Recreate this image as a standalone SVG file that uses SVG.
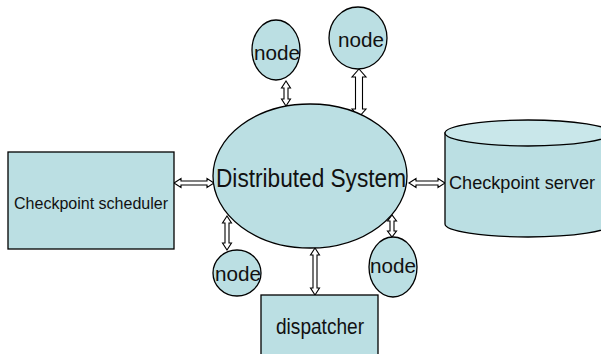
<svg xmlns="http://www.w3.org/2000/svg" width="601" height="354" viewBox="0 0 601 354">
<style>
.s{fill:#bbdfe3;stroke:#000;stroke-width:1.3}
.top{fill:#c9e7ea;stroke:#000;stroke-width:1.3}
.a{fill:#fff;stroke:#000;stroke-width:1.1;stroke-linejoin:miter}
.t{font-family:"Liberation Sans",Arial,sans-serif;fill:#111;text-anchor:middle}
</style>
<rect width="601" height="354" fill="#fff"/>
<g id="connectors">
<polygon class="a" points="174,183 181,178.5 181,181 207,181 207,178.5 214,183 207,187.5 207,185 181,185 181,187.5"/>
<polygon class="a" points="409,183 416,178.5 416,181 438,181 438,178.5 445,183 438,187.5 438,185 416,185 416,187.5"/>
<polygon class="a" points="286,81 281.5,88 284,88 284,99 281.5,99 286,106 290.5,99 288,99 288,88 290.5,88"/>
<polygon class="a" points="359,69 352,77 355.5,77 355.5,109 352,109 359,117 366,109 362.5,109 362.5,77 366,77"/>
<polygon class="a" points="227,216 222.5,223 225,223 225,243 222.5,243 227,250 231.5,243 229,243 229,223 231.5,223"/>
<polygon class="a" points="392,215 387.5,221 390,221 390,231 387.5,231 392,237 396.5,231 394,231 394,221 396.5,221"/>
<polygon class="a" points="315,248 310.5,255 313,255 313,288 310.5,288 315,295 319.5,288 317,288 317,255 319.5,255"/>
</g>
<g id="distributed-system">
<ellipse class="s" cx="310" cy="176" rx="97" ry="72"/>
<text class="t" x="311" y="187" font-size="26" textLength="190" lengthAdjust="spacingAndGlyphs">Distributed System</text>
</g>
<g id="checkpoint-scheduler">
<rect class="s" x="8" y="152" width="166" height="97"/>
<text class="t" x="91" y="209" font-size="16" textLength="154" lengthAdjust="spacingAndGlyphs">Checkpoint scheduler</text>
</g>
<g id="checkpoint-server">
<path class="s" d="M445,133 L445,224 A83,13 0 0 0 611,224 L611,133 Z"/>
<ellipse class="top" cx="528" cy="133" rx="83" ry="13"/>
<text class="t" x="522" y="189" font-size="18" textLength="146" lengthAdjust="spacingAndGlyphs">Checkpoint server</text>
</g>
<g id="node-top-left">
<ellipse class="s" cx="276" cy="50" rx="24" ry="30"/>
<text class="t" x="277" y="60" font-size="21" textLength="46" lengthAdjust="spacingAndGlyphs">node</text>
</g>
<g id="node-top-right">
<ellipse class="s" cx="358" cy="38" rx="29" ry="31"/>
<text class="t" x="361" y="47" font-size="21" textLength="46" lengthAdjust="spacingAndGlyphs">node</text>
</g>
<g id="node-bottom-left">
<ellipse class="s" cx="237" cy="273" rx="24" ry="23"/>
<text class="t" x="238" y="281" font-size="21" textLength="46" lengthAdjust="spacingAndGlyphs">node</text>
</g>
<g id="node-bottom-right">
<ellipse class="s" cx="393" cy="267" rx="24" ry="30"/>
<text class="t" x="393" y="273" font-size="21" textLength="46" lengthAdjust="spacingAndGlyphs">node</text>
</g>
<g id="dispatcher">
<rect class="s" x="261" y="295" width="117" height="65"/>
<text class="t" x="320" y="334" font-size="22" textLength="88" lengthAdjust="spacingAndGlyphs">dispatcher</text>
</g>
</svg>
